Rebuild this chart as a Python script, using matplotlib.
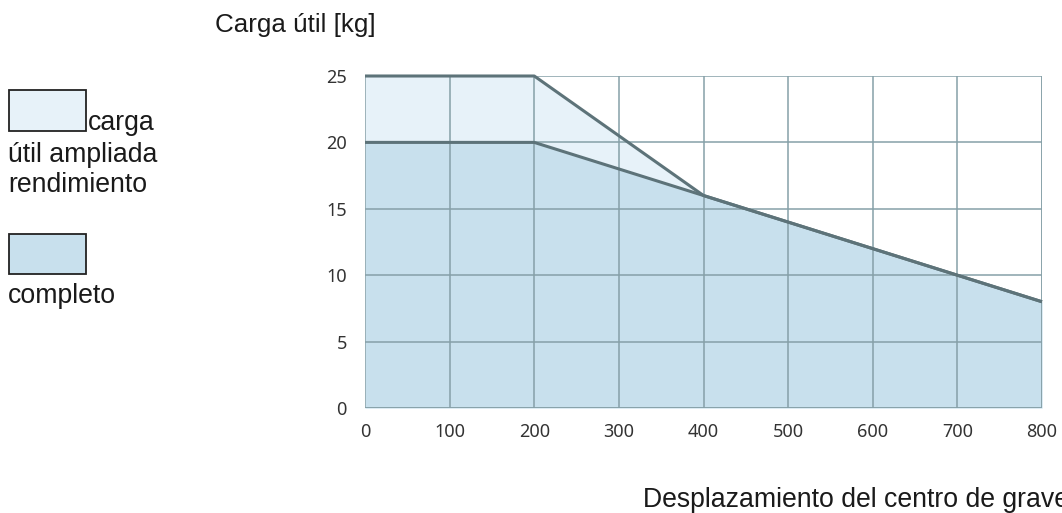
import matplotlib
matplotlib.use("Agg")
import matplotlib.pyplot as plt
from matplotlib.patches import Rectangle

# Desplazamiento [mm] y carga útil [kg]
x_ampliada = [0, 200, 400, 700, 800]
carga_ampliada = [25, 25, 16, 10, 8]
x_completo = [0, 200, 400, 700, 800]
carga_completo = [20, 20, 16, 10, 8]

x_ticks = [0, 100, 200, 300, 400, 500, 600, 700, 800]
y_ticks = [0, 5, 10, 15, 20, 25]

c_ampliada = "#e7f2f9"
c_completo = "#c8e0ed"
c_linea = "#5d7379"
c_grid = "#86a0a8"

W, H = 1062, 513
fig = plt.figure(figsize=(W / 100, H / 100), dpi=100)
ax = fig.add_axes([365 / W, 1 - 408 / H, 677 / W, 332 / H])

ax.fill_between(x_ampliada, carga_ampliada, color=c_ampliada, lw=0, zorder=1)
ax.fill_between(x_completo, carga_completo, color=c_completo, lw=0, zorder=2)

ax.set_xlim(0, 800)
ax.set_ylim(0, 25)
ax.set_xticks(x_ticks)
ax.set_yticks(y_ticks)
ax.grid(True, color=c_grid, lw=1.1, zorder=3)
ax.set_axisbelow(False)
for s in ax.spines.values():
    s.set_visible(False)
ax.axvline(800, color=c_grid, lw=1.1, zorder=3)
ax.axhline(0, color=c_grid, lw=1.1, zorder=3)

ax.plot(x_ampliada, carga_ampliada, color=c_linea, lw=2.2, zorder=4, clip_on=False,
        solid_capstyle="butt")
ax.plot(x_completo, carga_completo, color=c_linea, lw=2.2, zorder=4, clip_on=False,
        solid_capstyle="butt")

ax.tick_params(length=0, labelsize=13, labelcolor="#333333")
ax.tick_params(axis="y", pad=13)
ax.tick_params(axis="x", pad=11)
for lab in ax.get_xticklabels() + ax.get_yticklabels():
    lab.set_family("Noto Sans")

texto = dict(family="Liberation Sans", fontsize=19.2, color="#1a1a1a",
             ha="left", va="baseline")
fig.text(215 / W, 1 - 32 / H, "Carga útil [kg]", **{**texto, "fontsize": 18.7})
# el rótulo del eje x continúa más allá del borde derecho de la figura
fig.text(643 / W, 1 - 507 / H, "Desplazamiento del centro de gravedad [mm]", **texto)

# leyenda manual
fig.patches.append(Rectangle((9 / W, 1 - 131 / H), 77 / W, 41 / H,
                             transform=fig.transFigure, facecolor=c_ampliada,
                             edgecolor="#222222", lw=1.3))
fig.patches.append(Rectangle((9 / W, 1 - 274 / H), 77 / W, 40 / H,
                             transform=fig.transFigure, facecolor=c_completo,
                             edgecolor="#222222", lw=1.3))
fig.text(88 / W, 1 - 130 / H, "carga", **texto)
fig.text(8 / W, 1 - 162 / H, "útil ampliada", **texto)
fig.text(8 / W, 1 - 192 / H, "rendimiento", **texto)
fig.text(8 / W, 1 - 303 / H, "completo", **texto)

fig.savefig("out.png", dpi=100)
